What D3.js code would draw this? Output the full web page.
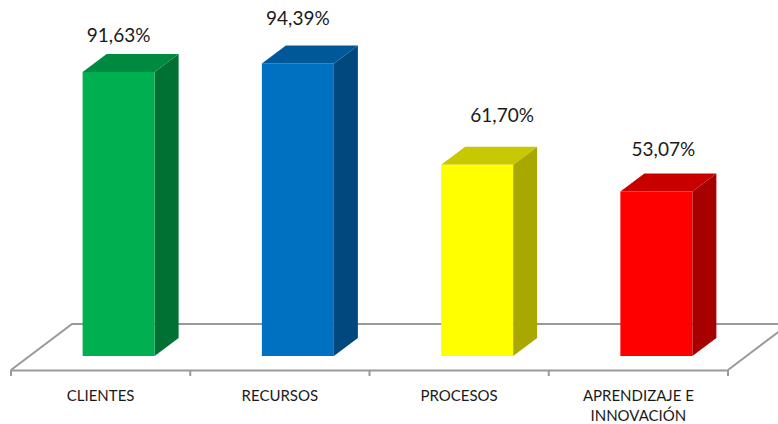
<!DOCTYPE html>
<html>
<head>
<meta charset="utf-8">
<script src="https://cdn.jsdelivr.net/npm/d3@7"></script>
<style>
  html, body { margin: 0; padding: 0; background: #fff; overflow: hidden; }
  svg { display: block; }
  text { font-family: Lato, "Open Sans", sans-serif; fill: #1a1a1a; }
</style>
</head>
<body>
<div id="container"></div>
<script>
// data
const categories = ["CLIENTES", "RECURSOS", "PROCESOS", "APRENDIZAJE E|INNOVACIÓN"];
const values = [91.63, 94.39, 61.70, 53.07];
const valueLabels = ["91,63%", "94,39%", "61,70%", "53,07%"];

// front, top, side colour of each bar
const frontColors = ["#00b050", "#0070c0", "#ffff00", "#ff0000"];
const topColors = ["#008a3f", "#005899", "#c8c800", "#c80000"];
const sideColors = ["#007033", "#00487d", "#a8a800", "#a60000"];

// the labels were moved by hand in the original
const labelShift = [0, 0, 25, 7];
const labelLift = [30, 38, 43, 35];

const w = 778, h = 424;
const floorFront = 370, floorBack = 324, floorLeft = 11, floorRight = 728;
const baseY = 356;
const depthX = 24, depthY = 18;
const floorSlant = 61;
const barShift = 18; // bars stand further back on the floor than the band centre

const svg = d3.select("#container").append("svg").attr("width", w).attr("height", h);

const xScale = d3.scaleBand().domain(categories).range([floorLeft, floorRight]).paddingInner(0).paddingOuter(0);
const yScale = d3.scaleLinear().domain([0, 100]).range([baseY, baseY - 310]);
const barWidth = 72;

// the floor
const line = d3.line();
svg.append("path")
  .attr("d", line([[floorLeft, floorFront], [floorLeft + floorSlant, floorBack], [w + 5, floorBack]]))
  .attr("fill", "none").attr("stroke", "#999").attr("stroke-width", 2);
svg.append("path")
  .attr("d", line([[floorRight, floorFront], [floorRight + floorSlant, floorBack]]))
  .attr("fill", "none").attr("stroke", "#999").attr("stroke-width", 2);

// category axis: labels come from the axis, ticks go on the band edges
const xAxis = d3.axisBottom(xScale).tickSize(0).tickPadding(0).tickFormat(() => "");
const xAxisGroup = svg.append("g").attr("transform", `translate(0,${floorFront})`).call(xAxis);
xAxisGroup.select(".domain").attr("stroke", "#999").attr("stroke-width", 2);

xAxisGroup.selectAll(".tick text").each(function (d) {
  const label = d3.select(this).attr("y", 0).attr("dy", null).attr("font-size", 15).attr("text-anchor", "middle");
  d.split("|").forEach((part, i) => {
    label.append("tspan").attr("x", 0).attr("y", 31 + i * 20).text(part);
  });
});

const edges = categories.map(c => xScale(c)).concat(floorRight);
svg.selectAll(".edge").data(edges).enter().append("line")
  .attr("class", "edge")
  .attr("x1", d => d).attr("x2", d => d)
  .attr("y1", floorFront).attr("y2", floorFront + 6)
  .attr("stroke", "#999").attr("stroke-width", 2);

// the bars
const bars = svg.selectAll(".bar").data(values).enter().append("g").attr("class", "bar");

const barLeft = (i) => xScale(categories[i]) + (xScale.bandwidth() - barWidth) / 2 + barShift;

bars.append("path") // side
  .attr("d", (d, i) => {
    const x = barLeft(i) + barWidth, y = yScale(d);
    return line([[x, y], [x + depthX, y - depthY], [x + depthX, baseY - depthY], [x, baseY]]) + "Z";
  })
  .attr("fill", (d, i) => sideColors[i]);

bars.append("path") // top
  .attr("d", (d, i) => {
    const x = barLeft(i), y = yScale(d);
    return line([[x, y], [x + depthX, y - depthY], [x + barWidth + depthX, y - depthY], [x + barWidth, y]]) + "Z";
  })
  .attr("fill", (d, i) => topColors[i]);

bars.append("rect") // front
  .attr("x", (d, i) => barLeft(i))
  .attr("y", d => yScale(d))
  .attr("width", barWidth)
  .attr("height", d => baseY - yScale(d))
  .attr("fill", (d, i) => frontColors[i]);

// value labels
svg.selectAll(".value").data(values).enter().append("text")
  .attr("class", "value")
  .attr("x", (d, i) => barLeft(i) + barWidth / 2 + labelShift[i])
  .attr("y", (d, i) => yScale(d) - labelLift[i])
  .attr("text-anchor", "middle")
  .attr("font-size", 19)
  .text((d, i) => valueLabels[i]);
</script>
</body>
</html>
